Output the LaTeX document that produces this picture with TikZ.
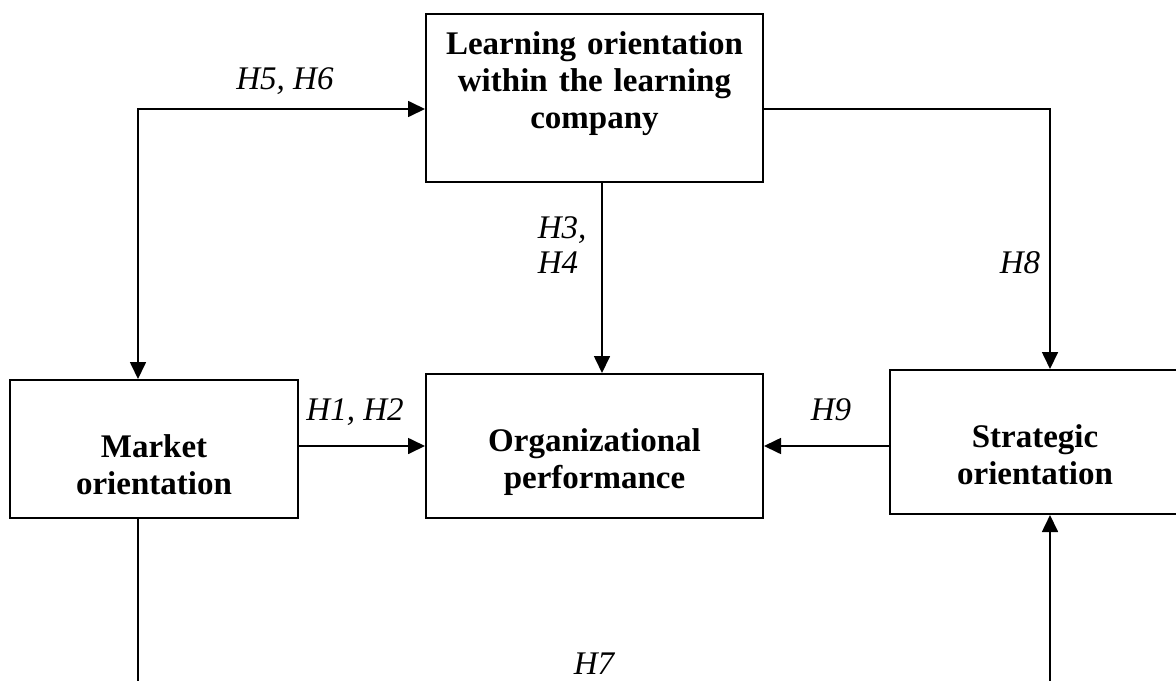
\documentclass[tikz,border=0pt]{standalone}
\usepackage{fontspec}
\setmainfont{Liberation Serif}
\usetikzlibrary{arrows.meta}

\begin{document}
\begin{tikzpicture}[x=0.5pt,y=-0.5pt,line width=0.85pt,>={Triangle[length=8.5pt,width=8pt]},
    box/.style={draw,line width=1pt,inner sep=0pt,align=center,
      font=\fontsize{16.5}{18.5}\selectfont\bfseries},
    hyp/.style={inner sep=0pt,font=\fontsize{16.5}{17.5}\selectfont\itshape}]
   \useasboundingbox (0,0) rectangle (1176,680);
   \clip (0,0) rectangle (1176,680);

   \node[box, text width=168.5pt, text height=20pt, text depth=64pt] (learn) at (594.5,98)
      {Learning orientation\\within the learning\\company};
   \node[box, text width=144pt, text height=38.5pt, text depth=30.5pt] (market) at (154,449)
      {Market\\orientation};
   \node[box, text width=168.5pt, text height=38.5pt, text depth=33.5pt] (perf) at (594.5,446)
      {Organizational\\performance};
   \node[box, text width=145pt, text height=38.5pt, text depth=33.5pt] (strat) at (1035,442)
      {Strategic\\orientation};

   % corners of the bent connectors
   \coordinate (ml) at (138,109);
   \coordinate (sl) at (1050,109);
   \coordinate (mb) at (138,720);
   \coordinate (sb) at (1050,720);

   \draw[<->] (learn.west |- ml) -- (ml) -- (ml |- market.north);
   \draw[->] (learn.east |- sl) -- (sl) -- (sl |- strat.north);
   \draw[->] ([xshift=3.75pt]learn.south) -- ([xshift=3.75pt]perf.north);
   \draw[->] (market.east |- perf.west) -- (perf.west);
   \draw[->] (strat.west |- perf.east) -- (perf.east);
   \draw[->] (ml |- market.south) -- (mb) -- (sb) -- (sb |- strat.south);

   \node[hyp, anchor=base] (h56) at (285,89) {H5, H6};
   \node[hyp, anchor=north west, align=left] (h34) at (537,216) {H3,\\H4};
   \node[hyp, anchor=base] (h8) at (1020,273) {H8};
   \node[hyp, anchor=base] (h12) at (355,420) {H1, H2};
   \node[hyp, anchor=base] (h9) at (831,420) {H9};
   \node[hyp, anchor=base] (h7) at (594,674) {H7};
\end{tikzpicture}
\end{document}
